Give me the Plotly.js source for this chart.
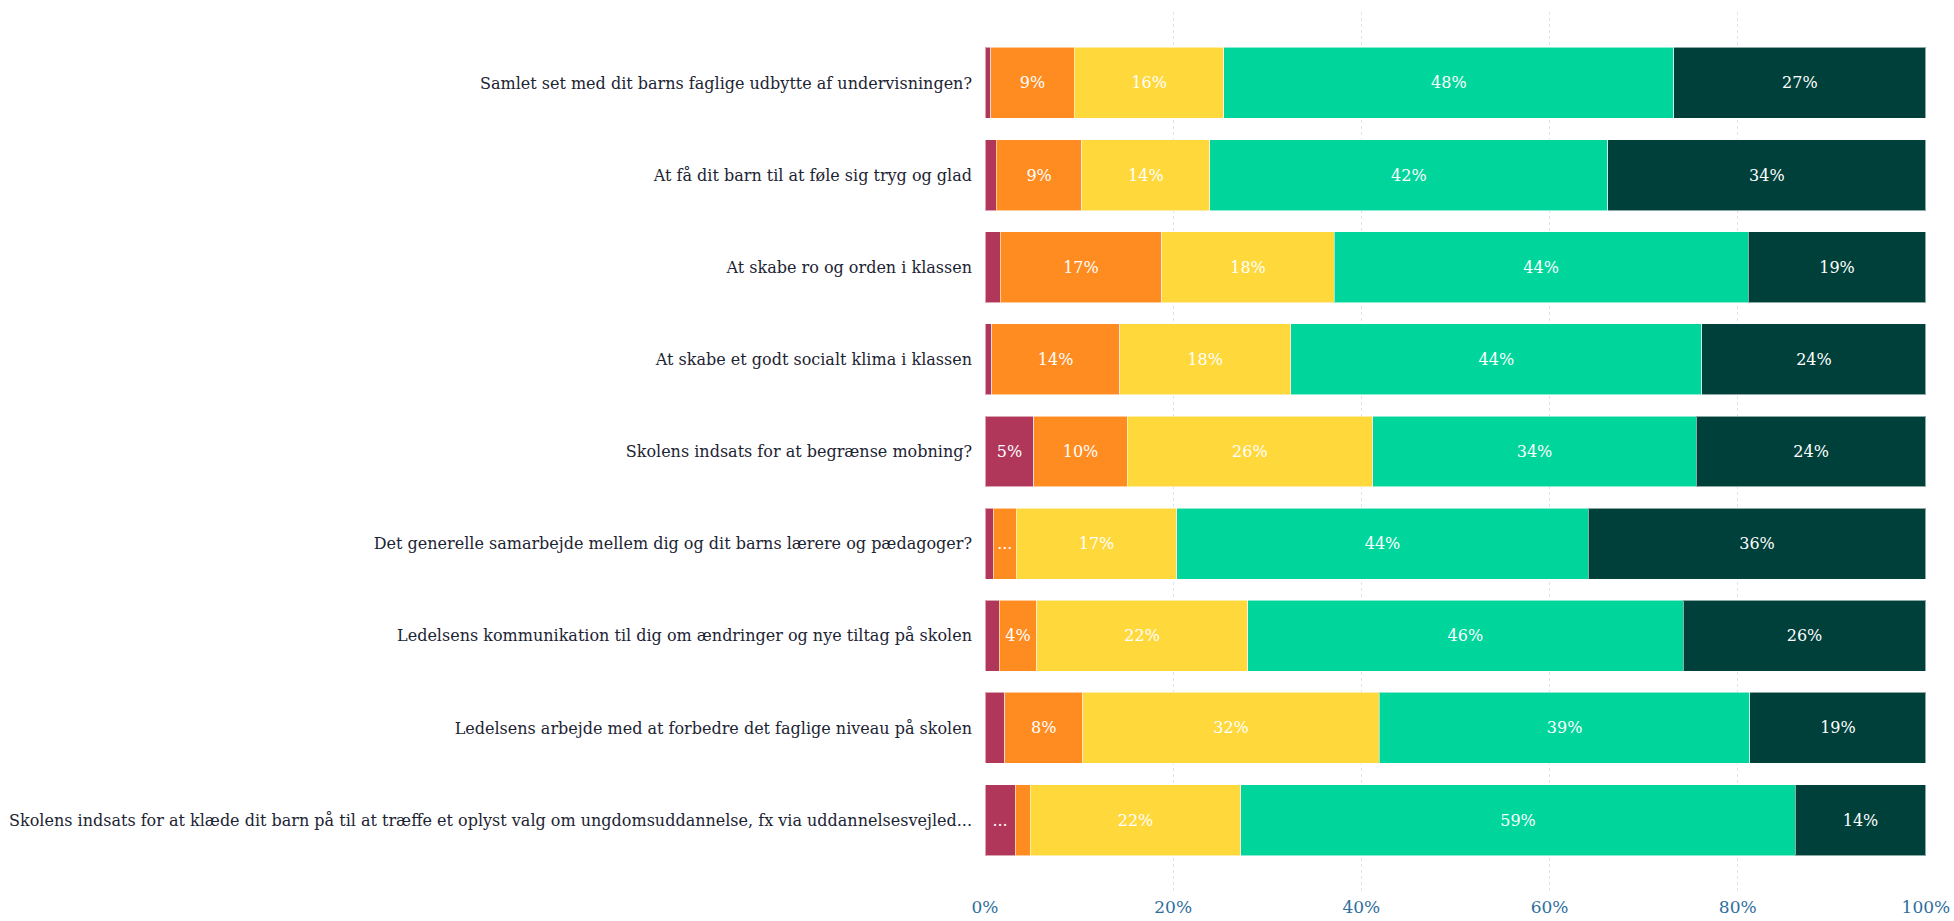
<!DOCTYPE html>
<html>
<head>
<meta charset="utf-8">
<script src="https://cdn.plot.ly/plotly-3.0.1.min.js"></script>
<style>html,body{margin:0;padding:0;background:#fff;}#chart{width:1954px;height:921px;}</style>
</head>
<body>
<div id="chart"></div>
<script>
const categories = [
  "Samlet set med dit barns faglige udbytte af undervisningen?",
  "At få dit barn til at føle sig tryg og glad",
  "At skabe ro og orden i klassen",
  "At skabe et godt socialt klima i klassen",
  "Skolens indsats for at begrænse mobning?",
  "Det generelle samarbejde mellem dig og dit barns lærere og pædagoger?",
  "Ledelsens kommunikation til dig om ændringer og nye tiltag på skolen",
  "Ledelsens arbejde med at forbedre det faglige niveau på skolen",
  "Skolens indsats for at klæde dit barn på til at træffe et oplyst valg om ungdomsuddannelse, fx via uddannelsesvejled..."
];
const seriesNames = ["Meget utilfreds", "Utilfreds", "Hverken eller", "Tilfreds", "Meget tilfreds"];
const veryDissatisfied = [0.6, 1.2, 1.6, 0.7, 5.2, 0.9, 1.5, 2.1, 3.2];
const dissatisfied     = [8.9, 9.1, 17.2, 13.6, 9.9, 2.4, 4.0, 8.3, 1.6];
const neutral          = [15.9, 13.6, 18.3, 18.2, 26.1, 17.1, 22.4, 31.5, 22.4];
const satisfied        = [47.8, 42.3, 44.0, 43.7, 34.4, 43.7, 46.3, 39.4, 58.9];
const verySatisfied    = [26.8, 33.8, 18.9, 23.8, 24.4, 35.9, 25.8, 18.7, 13.9];
const xTickVals = [0, 20, 40, 60, 80, 100];
const xTickText = ["0%", "20%", "40%", "60%", "80%", "100%"];

const colors = ["#b0365a", "#ff8c21", "#ffd83b", "#00d69c", "#00403a"];
const allSeries = [veryDissatisfied, dissatisfied, neutral, satisfied, verySatisfied];

function labelFor(v) {
  if (v < 2.3) return "";
  if (v < 3.6) return "...";
  return Math.round(v) + "%";
}

const FONT = "Georgia, 'DejaVu Serif', serif";

const traces = allSeries.map((vals, i) => ({
  type: "bar",
  orientation: "h",
  name: seriesNames[i],
  y: categories,
  x: vals,
  text: vals.map(labelFor),
  textposition: "inside",
  insidetextanchor: "middle",
  textangle: 0,
  constraintext: "none",
  cliponaxis: false,
  textfont: {family: FONT, size: 16, color: "#ffffff"},
  marker: {color: colors[i], line: {color: "rgba(255,255,255,0.55)", width: 1}},
  hoverinfo: "x+y+name"
}));

const layout = {
  width: 1954,
  height: 921,
  barmode: "stack",
  bargap: 0.23,
  showlegend: false,
  paper_bgcolor: "#ffffff",
  plot_bgcolor: "#ffffff",
  margin: {l: 985, r: 28, t: 12, b: 30},
  xaxis: {
    range: [0, 100.01],
    tickvals: xTickVals,
    ticktext: xTickText,
    showgrid: true,
    gridcolor: "#d6e5f1",
    griddash: "dot",
    gridwidth: 1,
    zeroline: false,
    showline: false,
    ticks: "",
    ticklabelstandoff: 4,
    tickfont: {family: FONT, size: 17, color: "#2e6e9e"},
    fixedrange: true
  },
  yaxis: {
    type: "category",
    range: [8.77, -0.77],
    showgrid: false,
    zeroline: false,
    showline: false,
    ticks: "",
    ticklabelstandoff: 12,
    tickfont: {family: FONT, size: 16, color: "#1c2433"},
    fixedrange: true
  }
};

Plotly.newPlot("chart", traces, layout, {displayModeBar: false, responsive: false});
</script>
</body>
</html>
